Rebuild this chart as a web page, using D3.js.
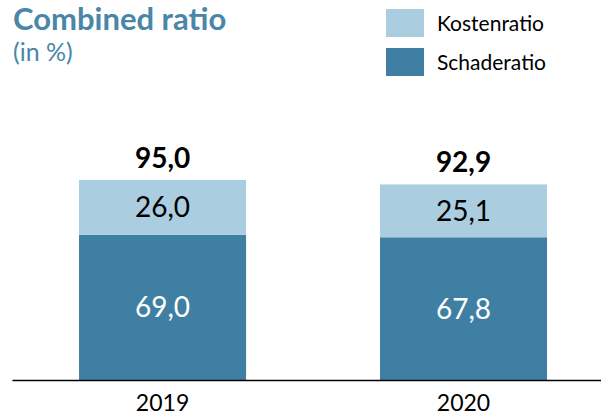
<!DOCTYPE html>
<html>
<head>
<meta charset="utf-8">
<script src="https://cdn.jsdelivr.net/npm/d3@7"></script>
<style>
  body { margin: 0; background: #fff; }
  svg { display: block; font-family: Lato, "Open Sans", sans-serif; }
</style>
</head>
<body>
<div id="chart"></div>
<script>
/* DATA */
const years = ["2019", "2020"];
const schaderatio = [69.0, 67.8];
const kostenratio = [26.0, 25.1];
const totals = [95.0, 92.9];
const seriesNames = ["Kostenratio", "Schaderatio"];

/* CONSTANTS */
const width = 601,
  height = 415,
  margin = { top: 100, bottom: 35, left: 12, right: 0 };

const colors = { Kostenratio: "#abcde0", Schaderatio: "#3f7fa3" };
const fmt = v => d3.format(".1f")(v).replace(".", ",");

const svg = d3.select("#chart")
  .append("svg")
  .attr("width", width)
  .attr("height", height);

// scales
const xScale = d3.scaleBand()
  .domain(years)
  .range([margin.left, width - margin.right])
  .paddingInner(0.445)
  .paddingOuter(0.201)
  .align(0.554);

const yScale = d3.scaleLinear()
  .domain([0, 95])
  .range([height - margin.bottom, height - margin.bottom - 200]);

const rows = years.map((y, i) => ({
  year: y,
  Schaderatio: schaderatio[i],
  Kostenratio: kostenratio[i],
  total: totals[i]
}));

const stack = d3.stack().keys(["Schaderatio", "Kostenratio"]);
const layers = stack(rows);

// bars
const groups = svg.selectAll(".layer")
  .data(layers)
  .join("g")
  .attr("class", "layer")
  .attr("fill", d => colors[d.key]);

groups.selectAll("rect")
  .data(d => d.map(s => ({ key: d.key, s })))
  .join("rect")
  .attr("x", d => xScale(d.s.data.year))
  .attr("width", xScale.bandwidth())
  .attr("y", d => yScale(d.s[1]))
  .attr("height", d => yScale(d.s[0]) - yScale(d.s[1]));

// segment labels
groups.selectAll("text")
  .data(d => d.map(s => ({ key: d.key, s })))
  .join("text")
  .attr("x", d => xScale(d.s.data.year) + xScale.bandwidth() / 2)
  .attr("y", d => (yScale(d.s[0]) + yScale(d.s[1])) / 2)
  .attr("dy", "0.36em")
  .attr("text-anchor", "middle")
  .attr("font-size", 28)
  .attr("fill", d => d.key === "Schaderatio" ? "#fff" : "#000")
  .text(d => fmt(d.s[1] - d.s[0]));

// totals
svg.selectAll(".total")
  .data(rows)
  .join("text")
  .attr("class", "total")
  .attr("x", d => xScale(d.year) + xScale.bandwidth() / 2)
  .attr("y", d => yScale(d.total) - 12)
  .attr("text-anchor", "middle")
  .attr("font-size", 28)
  .attr("font-weight", "bold")
  .attr("fill", "#000")
  .text(d => fmt(d.total));

// x axis
const xAxis = d3.axisBottom(xScale).tickSize(0).tickPadding(15);
const xAxisGroup = svg.append("g")
  .attr("transform", `translate(0, ${yScale(0)})`)
  .call(xAxis);
xAxisGroup.select(".domain")
  .attr("stroke", "#000")
  .attr("stroke-width", 1.5);
xAxisGroup.selectAll(".tick text")
  .attr("font-size", 23)
  .attr("font-family", "Lato, sans-serif")
  .attr("fill", "#000");

// title
svg.append("text")
  .attr("x", 13)
  .attr("y", 30)
  .attr("font-size", 31)
  .attr("font-weight", "bold")
  .attr("fill", "#4a86a8")
  .text("Combined ratio");
svg.append("text")
  .attr("x", 13)
  .attr("y", 61)
  .attr("font-size", 25)
  .attr("fill", "#4a86a8")
  .text("(in %)");

// legend
const legend = svg.selectAll(".legend")
  .data(seriesNames)
  .join("g")
  .attr("class", "legend")
  .attr("transform", (d, i) => `translate(386, ${9 + i * 39})`);
legend.append("rect")
  .attr("width", 38)
  .attr("height", 28)
  .attr("fill", d => colors[d]);
legend.append("text")
  .attr("x", 51)
  .attr("y", 14)
  .attr("dy", "0.36em")
  .attr("font-size", 21)
  .attr("fill", "#000")
  .text(d => d);
</script>
</body>
</html>
